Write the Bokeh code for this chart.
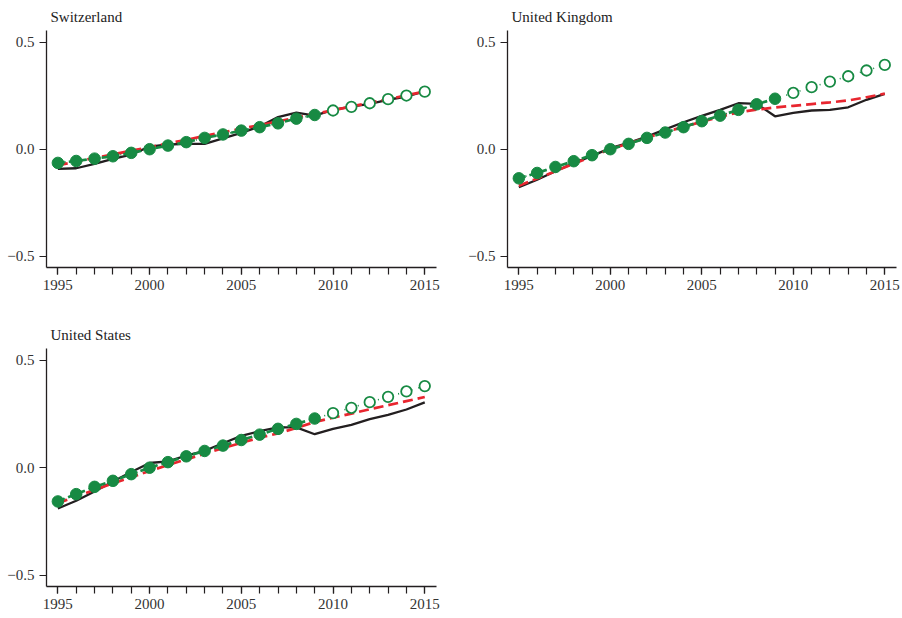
from bokeh.plotting import figure
from bokeh.layouts import column, row
from bokeh.models import Range1d, SingleIntervalTicker, FixedTicker
from bokeh.embed import file_html
from bokeh.resources import INLINE

years = [1995, 1996, 1997, 1998, 1999, 2000, 2001, 2002, 2003, 2004, 2005,
         2006, 2007, 2008, 2009, 2010, 2011, 2012, 2013, 2014, 2015]
n_filled = 15  # 1995-2009 filled markers, 2010-2015 open markers

countries = ["Switzerland", "United Kingdom", "United States"]

# black solid line
ch_actual = [-0.092, -0.089, -0.069, -0.045, -0.025, 0.012, 0.022, 0.025, 0.025, 0.051, 0.076,
             0.106, 0.150, 0.171, 0.157, 0.184, 0.199, 0.212, 0.231, 0.246, 0.271]
uk_actual = [-0.178, -0.143, -0.103, -0.065, -0.031, 0.005, 0.030, 0.059, 0.093, 0.126, 0.156,
             0.184, 0.215, 0.212, 0.154, 0.170, 0.181, 0.184, 0.196, 0.231, 0.259]
us_actual = [-0.190, -0.154, -0.111, -0.064, -0.020, 0.022, 0.030, 0.056, 0.079, 0.114, 0.148,
             0.170, 0.188, 0.188, 0.156, 0.181, 0.199, 0.226, 0.246, 0.271, 0.304]

# red dashed line
ch_trend = [-0.075, -0.058, -0.041, -0.024, -0.007, 0.010, 0.027, 0.044, 0.062, 0.079, 0.096,
            0.113, 0.130, 0.148, 0.165, 0.182, 0.200, 0.217, 0.234, 0.252, 0.270]
uk_trend = [-0.171, -0.137, -0.103, -0.068, -0.034, 0.000, 0.027, 0.054, 0.080, 0.105, 0.128,
            0.152, 0.172, 0.185, 0.195, 0.203, 0.211, 0.219, 0.228, 0.243, 0.260]
us_trend = [-0.165, -0.134, -0.103, -0.073, -0.044, -0.015, 0.012, 0.039, 0.065, 0.091, 0.116,
            0.140, 0.160, 0.185, 0.213, 0.233, 0.252, 0.272, 0.291, 0.310, 0.329]

# green markers
ch_model = [-0.064, -0.055, -0.044, -0.033, -0.017, 0.000, 0.017, 0.033, 0.053, 0.069, 0.087,
            0.103, 0.121, 0.143, 0.160, 0.181, 0.198, 0.215, 0.234, 0.251, 0.269]
uk_model = [-0.136, -0.111, -0.083, -0.056, -0.028, 0.000, 0.025, 0.053, 0.078, 0.103, 0.131,
            0.157, 0.184, 0.210, 0.236, 0.263, 0.290, 0.316, 0.341, 0.368, 0.394]
us_model = [-0.157, -0.123, -0.089, -0.061, -0.030, 0.000, 0.026, 0.053, 0.078, 0.103, 0.129,
            0.154, 0.181, 0.204, 0.229, 0.254, 0.279, 0.305, 0.330, 0.355, 0.380]

y_ticks = [-0.5, 0.0, 0.5]
y_tick_labels = {-0.5: "\u22120.5", 0.0: "0.0", 0.5: "0.5"}

GREEN = "#178a43"
RED = "#e8262f"
BLACK = "#231f20"
FONT = "Liberation Serif"


def make_panel(title, actual, trend, model, width, height, left, right, top, bottom):
    p = figure(width=width, height=height, output_backend="svg", toolbar_location=None,
               x_range=Range1d(1994.38, 2015.64), y_range=Range1d(-0.553, 0.555),
               min_border_left=left, min_border_right=right,
               min_border_top=top, min_border_bottom=bottom)
    p.title.text = title
    p.title.text_font = FONT
    p.title.text_font_size = "15px"
    p.title.text_font_style = "normal"
    p.title.text_color = "#222222"
    p.title.align = "left"
    p.title.offset = 4
    p.title.standoff = 11
    p.outline_line_color = None
    p.xgrid.visible = False
    p.ygrid.visible = False
    p.background_fill_color = "white"
    p.border_fill_color = "white"

    p.xaxis.ticker = SingleIntervalTicker(interval=5, num_minor_ticks=5)
    p.yaxis.ticker = FixedTicker(ticks=y_ticks)
    p.yaxis.major_label_overrides = y_tick_labels
    for ax in (p.xaxis, p.yaxis):
        ax.axis_line_color = BLACK
        ax.axis_line_width = 1.3
        ax.major_tick_line_color = BLACK
        ax.minor_tick_line_color = BLACK
        ax.major_tick_line_width = 1.2
        ax.minor_tick_line_width = 1.2
        ax.major_tick_in = 0
        ax.major_tick_out = 7
        ax.minor_tick_in = 0
        ax.minor_tick_out = 7
        ax.major_label_text_font = FONT
        ax.major_label_text_font_size = "15px"
        ax.major_label_text_color = "#333333"
        ax.major_label_standoff = 5
    p.yaxis.minor_tick_out = 0

    p.line(years, model, line_color=GREEN, line_width=1.6, line_dash="1 6")
    p.line(years, actual, line_color=BLACK, line_width=2.3)
    p.line(years, trend, line_color=RED, line_width=2.7, line_dash="10 5")
    p.line(years[:n_filled], model[:n_filled], line_color=GREEN, line_width=2.7, line_dash="7 4")
    p.scatter(years[:n_filled], model[:n_filled], size=11.5, fill_color=GREEN, line_color=GREEN)
    p.scatter(years[n_filled:], model[n_filled:], size=10.5, fill_color="white",
              line_color=GREEN, line_width=1.8)
    return p


p1 = make_panel(countries[0], ch_actual, ch_trend, ch_model, 461, 318, 46, 25, 30, 51)
p2 = make_panel(countries[1], uk_actual, uk_trend, uk_model, 439, 318, 46, 4, 30, 51)
p3 = make_panel(countries[2], us_actual, us_trend, us_model, 461, 298, 46, 25, 30, 30)

layout = column(row(p1, p2), row(p3))

open("out.html", "w").write(file_html(layout, INLINE))
